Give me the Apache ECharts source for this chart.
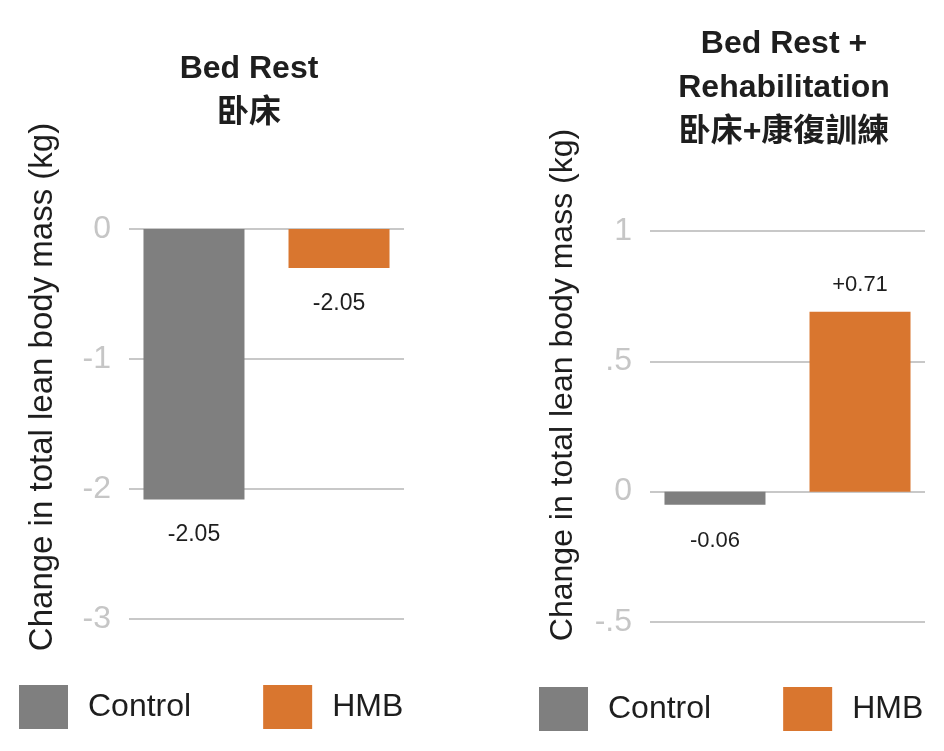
<!DOCTYPE html>
<html>
<head>
<meta charset="utf-8">
<script src="https://cdn.jsdelivr.net/npm/echarts@6/dist/echarts.min.js"></script>
<style>
html,body{margin:0;padding:0;background:#fff;}
#chart{width:944px;height:751px;}
</style>
</head>
<body>
<div id="chart"></div>
<script>
const seriesNames = ['Control', 'HMB'];
const seriesColors = ['#7f7f7f', '#d9762f'];

const bedRestTitle = 'Bed Rest\n卧床';
const bedRestValues = [-2.08, -0.30];
const bedRestLabels = ['-2.05', '-2.05'];
const bedRestTicks = [0, -1, -2, -3];
const bedRestTickLabels = ['0', '-1', '-2', '-3'];

const rehabTitle = 'Bed Rest +\nRehabilitation\n卧床+康復訓練';
const rehabValues = [-0.05, 0.69];
const rehabLabels = ['-0.06', '+0.71'];
const rehabTicks = [1, 0.5, 0, -0.5];
const rehabTickLabels = ['1', '.5', '0', '-.5'];

const yAxisName = 'Change in total lean body mass (kg)';

const FONT = '"Liberation Sans", Arial, "Noto Sans CJK TC", sans-serif';

const chart = echarts.init(document.getElementById('chart'), null, {renderer: 'canvas'});

function tickFormatter(ticks, labels) {
  return function (v) {
    for (let i = 0; i < ticks.length; i++) {
      if (Math.abs(ticks[i] - v) < 1e-9) return labels[i];
    }
    return '';
  };
}

function makeSeries(panel, values, labels, fontSize, distNeg, distPos) {
  return seriesNames.map(function (name, i) {
    const v = values[i];
    return {
      type: 'bar',
      name: name,
      xAxisIndex: panel,
      yAxisIndex: panel,
      data: [v],
      barWidth: 101,
      barGap: '43.6%',
      itemStyle: {color: seriesColors[i]},
      label: {
        show: true,
        position: v < 0 ? 'bottom' : 'top',
        distance: v < 0 ? distNeg : distPos,
        formatter: labels[i],
        fontFamily: FONT,
        fontSize: fontSize,
        color: '#1e1e1e'
      }
    };
  });
}

function makeYAxis(panel, min, max, interval, ticks, labels, fontSize) {
  return {
    type: 'value',
    gridIndex: panel,
    min: min,
    max: max,
    interval: interval,
    axisLine: {show: false},
    axisTick: {show: false},
    axisLabel: {
      formatter: tickFormatter(ticks, labels),
      fontFamily: FONT,
      fontSize: fontSize,
      color: '#c6c6c6',
      margin: 18
    },
    splitLine: {show: true, lineStyle: {color: '#c8c8c8', width: 2}}
  };
}

function makeXAxis(panel) {
  return {
    type: 'category',
    gridIndex: panel,
    data: [''],
    axisLine: {show: false},
    axisTick: {show: false},
    axisLabel: {show: false},
    splitLine: {show: false}
  };
}

const legendCommon = {
  data: seriesNames,
  icon: 'rect',
  itemWidth: 49,
  itemHeight: 44,
  itemGap: 72,
  padding: 0,
  selectedMode: false,
  textStyle: {
    fontFamily: FONT,
    fontSize: 32,
    color: '#1e1e1e',
    padding: [0, 0, 0, 15]
  }
};

const option = {
  animation: false,
  backgroundColor: '#ffffff',
  title: [
    {
      text: bedRestTitle,
      left: 244,
      top: 42,
      textAlign: 'center',
      textStyle: {fontFamily: FONT, fontSize: 32, fontWeight: 'bold', color: '#1e1e1e', lineHeight: 44}
    },
    {
      text: rehabTitle,
      left: 779,
      top: 17,
      textAlign: 'center',
      textStyle: {fontFamily: FONT, fontSize: 32, fontWeight: 'bold', color: '#1e1e1e', lineHeight: 44}
    }
  ],
  legend: [
    Object.assign({left: 19, top: 685}, legendCommon),
    Object.assign({left: 539, top: 687}, legendCommon)
  ],
  grid: [
    {left: 129, width: 275, top: 229, height: 390, containLabel: false},
    {left: 650, width: 275, top: 231, height: 391, containLabel: false}
  ],
  xAxis: [makeXAxis(0), makeXAxis(1)],
  yAxis: [
    makeYAxis(0, -3, 0, 1, bedRestTicks, bedRestTickLabels, 32),
    makeYAxis(1, -0.5, 1, 0.5, rehabTicks, rehabTickLabels, 32)
  ],
  graphic: [
    {
      type: 'text',
      x: 43,
      y: 387,
      rotation: Math.PI / 2,
      style: {text: yAxisName, fontFamily: FONT, fontSize: 33, fill: '#1e1e1e', align: 'center', verticalAlign: 'middle'}
    },
    {
      type: 'text',
      x: 563,
      y: 385,
      rotation: Math.PI / 2,
      style: {text: yAxisName, fontFamily: FONT, fontSize: 32, fill: '#1e1e1e', align: 'center', verticalAlign: 'middle'}
    }
  ],
  series: makeSeries(0, bedRestValues, bedRestLabels, 23, 24, 16)
    .concat(makeSeries(1, rehabValues, rehabLabels, 22, 25, 16))
};

chart.setOption(option);
</script>
</body>
</html>
